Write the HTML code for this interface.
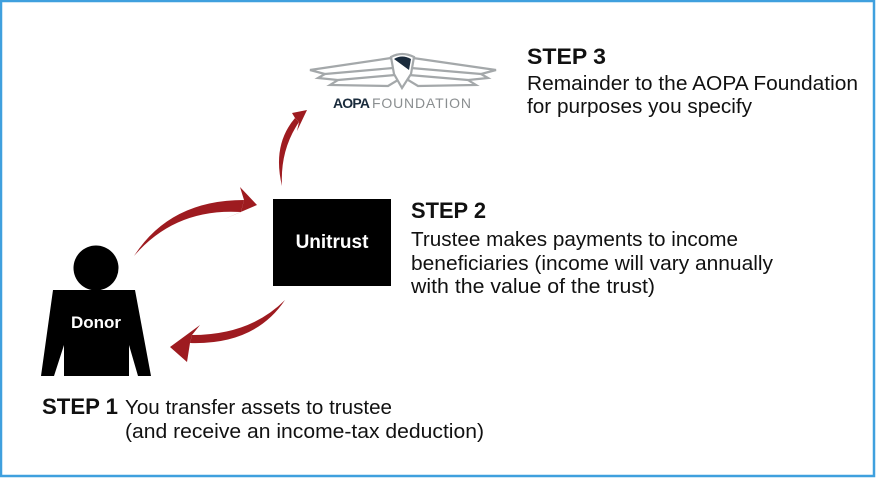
<!DOCTYPE html>
<html><head><meta charset="utf-8"><style>
html,body{margin:0;padding:0;background:#fff}
svg{display:block}
text{font-family:"Liberation Sans",sans-serif}
</style></head><body>
<svg width="876" height="478" viewBox="0 0 876 478" xmlns="http://www.w3.org/2000/svg">
<rect x="1" y="1" width="873" height="475" fill="#fff" stroke="#3fa0de" stroke-width="2.5"/>
<!-- Logo -->
<g fill="none" stroke="#a4a8aa" stroke-width="2.2">
<path d="M391 58 L310 70 L325 74 L318 78 L338 80 L330 85 L388 86 L398 80 Z"/>
<path d="M413 58 L496 70 L481 74 L488 78 L468 80 L476 85 L418 86 L408 80 Z"/>
<path d="M325 74 L393 68 M338 80 L395 75 M481 74 L411 68 M468 80 L409 75"/>
</g>
<path d="M391 57 Q402 51 414 57 L411 74 L402 88 L394 74 Z" fill="#fff" stroke="#a4a8aa" stroke-width="2.2"/>
<path d="M394 59 Q402 54 411 59 L409 70 Z" fill="#1a2b3c"/>
<text x="333" y="108" font-size="14" fill="#1a2b3c" font-weight="bold" textLength="37">AOPA</text>
<text x="372" y="108" font-size="14" fill="#8a8e90" textLength="99">FOUNDATION</text>
<!-- Donor -->
<circle cx="96" cy="268" r="22.5" fill="#000"/>
<polygon points="53,290 135,290 151,376 138,376 129,345 129,376 64,376 64,345 54,376 41,376" fill="#000"/>
<text x="96" y="328" font-size="17" font-weight="bold" fill="#fff" text-anchor="middle">Donor</text>
<!-- Unitrust -->
<rect x="273" y="199" width="118" height="87" fill="#000"/>
<text x="332" y="248" font-size="19" font-weight="bold" fill="#fff" text-anchor="middle">Unitrust</text>
<!-- Arrows -->
<g fill="#9e1b20">
<path d="M134 256 Q170 200 244 200 L241 212 Q175 208 134 256 Z"/>
<path d="M257 205 L240 187 L244 200 L241 212 L222 220 Z"/>
<path d="M285 300 Q255 345 190 343 L192 335 Q250 335 285 300 Z"/>
<path d="M170 347 L200 325 L192 335 L190 343 L187 362 Z"/>
<path d="M282 186 Q272 145 295 118 L299 122 Q280 150 282 186 Z"/>
<path d="M307 110 L292 113 L295 118 L299 122 L297 131 Z"/>
</g>
<!-- Text -->
<g fill="#111">
<text x="527" y="64" font-size="22" font-weight="bold" textLength="79" lengthAdjust="spacingAndGlyphs">STEP 3</text>
<text x="527" y="90" font-size="20" textLength="331" lengthAdjust="spacingAndGlyphs">Remainder to the AOPA Foundation</text>
<text x="527" y="113" font-size="20" textLength="225" lengthAdjust="spacingAndGlyphs">for purposes you specify</text>
<text x="411" y="218" font-size="22" font-weight="bold" textLength="75" lengthAdjust="spacingAndGlyphs">STEP 2</text>
<text x="411" y="246" font-size="20" textLength="327" lengthAdjust="spacingAndGlyphs">Trustee makes payments to income</text>
<text x="411" y="270" font-size="20" textLength="362" lengthAdjust="spacingAndGlyphs">beneficiaries (income will vary annually</text>
<text x="411" y="293" font-size="20" textLength="244" lengthAdjust="spacingAndGlyphs">with the value of the trust)</text>
<text x="42" y="414" font-size="22" font-weight="bold" textLength="76" lengthAdjust="spacingAndGlyphs">STEP 1</text>
<text x="125" y="414" font-size="20" textLength="267" lengthAdjust="spacingAndGlyphs">You transfer assets to trustee</text>
<text x="125" y="438" font-size="20" textLength="359" lengthAdjust="spacingAndGlyphs">(and receive an income-tax deduction)</text>
</g>
</svg>
</body></html>
